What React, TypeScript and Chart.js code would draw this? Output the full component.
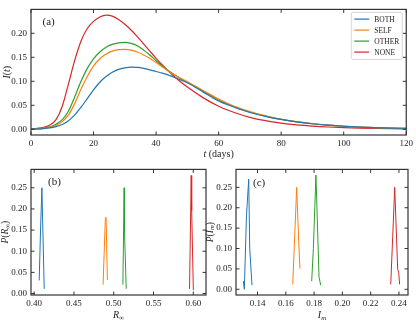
import React, { useEffect, useRef } from 'react';
import { Chart, registerables } from 'chart.js';

Chart.register(...registerables);

// ---------- data ----------
const SERIES = ['BOTH', 'SELF', 'OTHER', 'NONE'];
const COLORS = ['#1f77b4', '#ff7f0e', '#2ca02c', '#d62728'];

const tDays = [0, 2, 4, 6, 8, 10, 12, 14, 16, 18, 20, 22, 24, 26, 28, 30, 32, 34, 36, 38, 40, 42, 44, 46, 48, 50, 55, 60, 65, 70, 75, 80, 85, 90, 95, 100, 105, 110, 115, 120];
const iBoth = [0.0005, 0.0008, 0.0014, 0.0028, 0.0055, 0.01, 0.018, 0.03, 0.046, 0.064, 0.082, 0.098, 0.11, 0.119, 0.125, 0.128, 0.1295, 0.129, 0.127, 0.124, 0.1205, 0.117, 0.113, 0.108, 0.1025, 0.097, 0.078, 0.059, 0.046, 0.035, 0.027, 0.0205, 0.0155, 0.0115, 0.0085, 0.0063, 0.0047, 0.0035, 0.0026, 0.0019];
const iSelf = [0.0005, 0.001, 0.002, 0.004, 0.008, 0.016, 0.03, 0.054, 0.084, 0.11, 0.132, 0.147, 0.157, 0.163, 0.166, 0.1665, 0.165, 0.161, 0.155, 0.148, 0.139, 0.13, 0.121, 0.113, 0.106, 0.099, 0.081, 0.063, 0.048, 0.037, 0.028, 0.021, 0.0158, 0.0117, 0.0087, 0.0064, 0.0047, 0.0035, 0.0026, 0.0019];
const iOther = [0.0005, 0.001, 0.0024, 0.005, 0.0105, 0.02, 0.038, 0.068, 0.1, 0.127, 0.147, 0.161, 0.171, 0.177, 0.18, 0.181, 0.179, 0.174, 0.165, 0.155, 0.143, 0.132, 0.122, 0.113, 0.105, 0.098, 0.08, 0.061, 0.047, 0.036, 0.0275, 0.0205, 0.0155, 0.0115, 0.0085, 0.0063, 0.0047, 0.0035, 0.0026, 0.0019];
const iNone = [0.001, 0.002, 0.004, 0.009, 0.02, 0.048, 0.095, 0.144, 0.184, 0.21, 0.225, 0.234, 0.238, 0.236, 0.229, 0.219, 0.207, 0.193, 0.178, 0.163, 0.148, 0.134, 0.121, 0.109, 0.098, 0.088, 0.066, 0.048, 0.035, 0.025, 0.018, 0.013, 0.0093, 0.0067, 0.0048, 0.0035, 0.0025, 0.0018, 0.0013, 0.0009];

const tTicks = [0, 20, 40, 60, 80, 100, 120];
const iTicks = [0, 0.05, 0.1, 0.15, 0.2];

// panel (b): distribution of R_inf
const rBothX = [0.4063, 0.408, 0.4097, 0.4126];
const rBothY = [0.031, 0.15, 0.25, 0.011];
const rSelfX = [0.4866, 0.4895, 0.4904, 0.492];
const rSelfY = [0.021, 0.179, 0.18, 0.032];
const rOtherX = [0.5115, 0.5124, 0.5131, 0.5135, 0.5157];
const rOtherY = [0.021, 0.148, 0.25, 0.15, 0.011];
const rNoneX = [0.5953, 0.5974, 0.598, 0.6001];
const rNoneY = [0.011, 0.279, 0.196, 0.008];
const rTicks = [0.4, 0.45, 0.5, 0.55, 0.6];
const pTicksB = [0, 0.05, 0.1, 0.15, 0.2, 0.25];

// panel (c): distribution of I_m
const mBothX = [0.13, 0.1307, 0.1322, 0.1338, 0.1345, 0.1361];
const mBothY = [0.02, 0.0, 0.18, 0.27, 0.1, 0.01];
const mSelfX = [0.1649, 0.1663, 0.1677, 0.1691, 0.17];
const mSelfY = [0.012, 0.13, 0.25, 0.12, 0.051];
const mOtherX = [0.1783, 0.1795, 0.1805, 0.1813, 0.1822, 0.1835, 0.1847];
const mOtherY = [0.02, 0.1, 0.2, 0.28, 0.18, 0.03, 0.01];
const mNoneX = [0.2342, 0.2356, 0.237, 0.2391, 0.2398, 0.2405];
const mNoneY = [0.012, 0.13, 0.25, 0.049, 0.042, 0.012];
const mTicks = [0.14, 0.16, 0.18, 0.2, 0.22, 0.24];
const pTicksC = [0, 0.05, 0.1, 0.15, 0.2, 0.25];

// ---------- styling ----------
const FONT = "'Liberation Serif', 'DejaVu Serif', serif";
const TEXT = '#222222';
const FRAME = '#333333';

type Seg = { t: string; it?: boolean; sub?: boolean };

function drawSegs(ctx: CanvasRenderingContext2D, segs: Seg[], size: number, cx: number, cy: number, rotate: boolean) {
  ctx.save();
  ctx.translate(cx, cy);
  if (rotate) ctx.rotate(-Math.PI / 2);
  const fontFor = (s: Seg) => `${s.it ? 'italic ' : ''}${s.sub ? size * 0.7 : size}px ${FONT}`;
  let total = 0;
  const widths = segs.map((s) => {
    ctx.font = fontFor(s);
    const w = ctx.measureText(s.t).width;
    total += w;
    return w;
  });
  let x = -total / 2;
  ctx.textBaseline = 'middle';
  ctx.textAlign = 'left';
  ctx.fillStyle = TEXT;
  segs.forEach((s, i) => {
    ctx.font = fontFor(s);
    ctx.fillText(s.t, x, s.sub ? size * 0.28 : 0);
    x += widths[i];
  });
  ctx.restore();
}

const decor = {
  id: 'decor',
  afterDraw(chart: any, _args: any, o: any) {
    const { ctx, chartArea: a } = chart;
    const xs = chart.scales.x;
    const ys = chart.scales.y;
    ctx.save();
    // inward ticks on all four sides
    ctx.strokeStyle = FRAME;
    ctx.lineWidth = 1;
    const L = 3.5;
    ctx.beginPath();
    xs.ticks.forEach((t: any) => {
      const p = xs.getPixelForValue(t.value);
      ctx.moveTo(p, a.bottom);
      ctx.lineTo(p, a.bottom - L);
      ctx.moveTo(p, a.top);
      ctx.lineTo(p, a.top + L);
    });
    ys.ticks.forEach((t: any) => {
      const p = ys.getPixelForValue(t.value);
      ctx.moveTo(a.left, p);
      ctx.lineTo(a.left + L, p);
      ctx.moveTo(a.right, p);
      ctx.lineTo(a.right - L, p);
    });
    ctx.stroke();
    // frame
    ctx.lineWidth = 1.2;
    ctx.strokeRect(a.left, a.top, a.right - a.left, a.bottom - a.top);
    // panel label
    ctx.fillStyle = TEXT;
    ctx.font = `11px ${FONT}`;
    ctx.textBaseline = 'middle';
    ctx.textAlign = 'left';
    ctx.fillText(o.label, a.left + o.labelDx, a.top + o.labelDy);
    // axis titles
    drawSegs(ctx, o.xTitle, 10, (a.left + a.right) / 2, o.xTitleY, false);
    drawSegs(ctx, o.yTitle, o.yTitleSize, o.yTitleX, (a.top + a.bottom) / 2, true);
    // legend
    if (o.legend) {
      const w = 51;
      const h = 47;
      const bx = a.right - 4 - w;
      const by = a.top + 3;
      ctx.fillStyle = 'rgba(255,255,255,0.85)';
      ctx.strokeStyle = '#cccccc';
      ctx.lineWidth = 0.8;
      ctx.beginPath();
      (ctx as any).roundRect(bx, by, w, h, 2);
      ctx.fill();
      ctx.stroke();
      ctx.font = `7.5px ${FONT}`;
      ctx.textBaseline = 'middle';
      chart.data.datasets.forEach((ds: any, i: number) => {
        const yy = by + 6.7 + i * 11;
        ctx.strokeStyle = ds.borderColor;
        ctx.lineWidth = 1.2;
        ctx.beginPath();
        ctx.moveTo(bx + 3, yy);
        ctx.lineTo(bx + 18, yy);
        ctx.stroke();
        ctx.fillStyle = TEXT;
        ctx.fillText(ds.label, bx + 23, yy + 0.5);
      });
    }
    ctx.restore();
  },
};

function axis(min: number, max: number, ticks: number[], fmt: (v: number) => string, size: number, isX: boolean) {
  return {
    type: 'linear',
    min,
    max,
    grid: { display: false, drawTicks: false },
    border: { display: false },
    ticks: {
      color: TEXT,
      font: { family: FONT, size: 9 },
      padding: isX ? 3 : 4,
      maxRotation: 0,
      autoSkip: false,
      callback: (v: any) => fmt(Number(v)),
    },
    afterBuildTicks: (s: any) => {
      s.ticks = ticks.map((v) => ({ value: v }));
    },
    afterFit: (s: any) => {
      if (isX) s.height = size;
      else s.width = size;
    },
  };
}

function xy(xs: number[], ys: number[]) {
  return xs.map((x, i) => ({ x, y: ys[i] }));
}

function makeTop(): any {
  const series = [iBoth, iSelf, iOther, iNone];
  return {
    type: 'line',
    data: {
      datasets: series.map((s, i) => ({
        label: SERIES[i],
        data: xy(tDays, s),
        borderColor: COLORS[i],
        backgroundColor: COLORS[i],
        borderWidth: 1.2,
        pointRadius: 0,
        cubicInterpolationMode: 'monotone',
        fill: false,
      })),
    },
    options: {
      responsive: false,
      animation: false,
      layout: { padding: { top: 2, right: 9, bottom: 0, left: 0 } },
      plugins: {
        legend: { display: false },
        tooltip: { enabled: false },
        decor: {
          label: '(a)',
          labelDx: 11.5,
          labelDy: 13,
          xTitle: [{ t: 't', it: true }, { t: ' (days)' }],
          xTitleY: 154,
          yTitle: [{ t: 'I', it: true }, { t: '(' }, { t: 't', it: true }, { t: ')' }],
          yTitleX: 7,
          yTitleSize: 10,
          legend: true,
        },
      },
      scales: {
        x: axis(0, 120, tTicks, (v) => String(v), 25, true),
        y: axis(-0.0119, 0.2499, iTicks, (v) => v.toFixed(2), 31, false),
      },
    },
    plugins: [decor],
  };
}

function makeDist(
  xsList: number[][],
  ysList: number[][],
  xr: [number, number],
  yr: [number, number],
  xTicks: number[],
  yTicks: number[],
  pad: { top: number; right: number },
  yWidth: number,
  decorOpts: any
): any {
  return {
    type: 'line',
    data: {
      datasets: xsList.map((xs, i) => ({
        label: SERIES[i],
        data: xy(xs, ysList[i]),
        borderColor: COLORS[i],
        backgroundColor: COLORS[i],
        borderWidth: 1,
        pointRadius: 0,
        tension: 0,
        fill: false,
      })),
    },
    options: {
      responsive: false,
      animation: false,
      layout: { padding: { top: pad.top, right: pad.right, bottom: 0, left: 0 } },
      plugins: {
        legend: { display: false },
        tooltip: { enabled: false },
        decor: decorOpts,
      },
      scales: {
        x: axis(xr[0], xr[1], xTicks, (v) => v.toFixed(2), 25, true),
        y: axis(yr[0], yr[1], yTicks, (v) => v.toFixed(2), yWidth, false),
      },
    },
    plugins: [decor],
  };
}

function Panel(props: { make: () => any; left: number; top: number; width: number; height: number }) {
  const ref = useRef<HTMLCanvasElement | null>(null);
  useEffect(() => {
    if (!ref.current) return;
    const chart = new Chart(ref.current, props.make());
    return () => chart.destroy();
  }, []);
  return (
    <canvas
      ref={ref}
      width={props.width}
      height={props.height}
      style={{ position: 'absolute', left: props.left, top: props.top, width: props.width, height: props.height }}
    />
  );
}

export default function App() {
  const makeB = () =>
    makeDist(
      [rBothX, rSelfX, rOtherX, rNoneX],
      [rBothY, rSelfY, rOtherY, rNoneY],
      [0.396, 0.616],
      [-0.0035, 0.2935],
      rTicks,
      pTicksB,
      { top: 2, right: 2 },
      31,
      {
        label: '(b)',
        labelDx: 17,
        labelDy: 13,
        xTitle: [{ t: 'R', it: true }, { t: '∞', sub: true }],
        xTitleY: 155,
        yTitle: [{ t: 'P', it: true }, { t: '(' }, { t: 'R', it: true }, { t: '∞', sub: true }, { t: ')' }],
        yTitleX: 5.5,
        yTitleSize: 9.5,
        legend: false,
      }
    );
  const makeC = () =>
    makeDist(
      [mBothX, mSelfX, mOtherX, mNoneX],
      [mBothY, mSelfY, mOtherY, mNoneY],
      [0.1248, 0.2464],
      [-0.014, 0.294],
      mTicks,
      pTicksC,
      { top: 1, right: 8 },
      36,
      {
        label: '(c)',
        labelDx: 17,
        labelDy: 14,
        xTitle: [{ t: 'I', it: true }, { t: 'm', it: true, sub: true }],
        xTitleY: 155,
        yTitle: [{ t: 'P', it: true }, { t: '(' }, { t: 'I', it: true }, { t: 'm', it: true, sub: true }, { t: ')' }],
        yTitleX: 10,
        yTitleSize: 9.5,
        legend: false,
      }
    );
  return (
    <div style={{ position: 'absolute', left: 0, top: 0, width: 416, height: 320, background: '#ffffff' }}>
      <Panel make={makeTop} left={0} top={0} width={416} height={160} />
      <Panel make={makeB} left={0} top={160} width={208} height={160} />
      <Panel make={makeC} left={200} top={160} width={216} height={160} />
    </div>
  );
}
